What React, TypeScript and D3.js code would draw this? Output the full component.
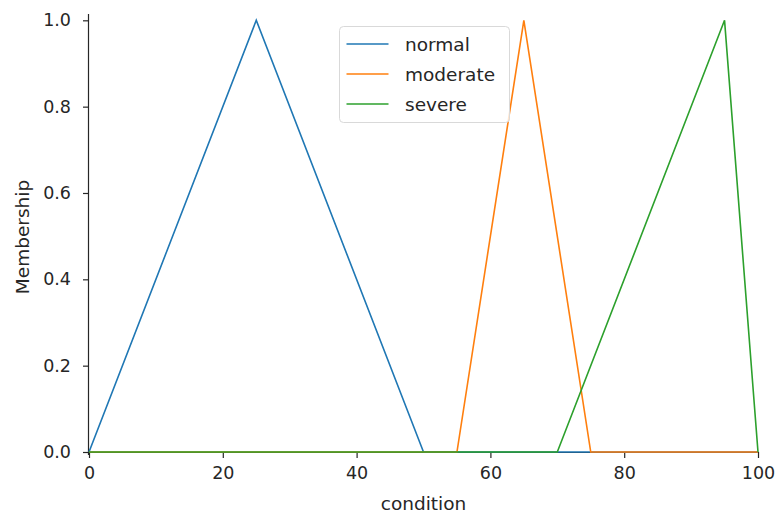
import React, { useEffect, useRef } from 'react';
import * as d3 from 'd3';

const universe = [0, 100];
const xTicks = [0, 20, 40, 60, 80, 100];
const yTicks = [0, 0.2, 0.4, 0.6, 0.8, 1.0];

const normalX = [0, 25, 50, 100];
const normalY = [0, 1, 0, 0];
const moderateX = [0, 55, 65, 75, 100];
const moderateY = [0, 0, 1, 0, 0];
const severeX = [0, 70, 95, 100];
const severeY = [0, 0, 1, 0];

const seriesNames = ['normal', 'moderate', 'severe'];
const seriesColors = ['#1f77b4', '#ff7f0e', '#2ca02c'];

export default function App() {
  const ref = useRef<SVGSVGElement>(null);

  useEffect(() => {
    const width = 781;
    const height = 518;
    const margin = { top: 16, left: 89, bottom: 66, right: 23 };
    const iwidth = width - margin.left - margin.right;
    const iheight = height - margin.top - margin.bottom;
    const font = 'DejaVu Sans, sans-serif';
    const tickFont = '17.5px';
    const labelFont = '18.5px';

    const svg = d3.select(ref.current);
    svg.selectAll('*').remove();
    svg.attr('width', width).attr('height', height);
    svg.append('rect').attr('width', width).attr('height', height).attr('fill', '#fff');

    const g = svg.append('g').attr('transform', `translate(${margin.left},${margin.top})`);

    const x = d3.scaleLinear().domain(universe).range([0, iwidth]);
    const y = d3.scaleLinear().domain([0, 1.01]).range([iheight, 0]);

    const series = [
      { xs: normalX, ys: normalY },
      { xs: moderateX, ys: moderateY },
      { xs: severeX, ys: severeY },
    ];

    const line = d3
      .line<[number, number]>()
      .x((d) => x(d[0]))
      .y((d) => y(d[1]));

    // axes
    const xAxis = g
      .append('g')
      .attr('transform', `translate(0,${iheight})`)
      .call(d3.axisBottom(x).tickValues(xTicks).tickFormat(d3.format('d')).tickSize(6).tickPadding(9));
    const yAxis = g
      .append('g')
      .call(d3.axisLeft(y).tickValues(yTicks).tickFormat(d3.format('.1f')).tickSize(6).tickPadding(12));

    [xAxis, yAxis].forEach((a) => {
      a.select('.domain').attr('stroke', '#262626').attr('stroke-width', 1.2);
      a.selectAll('.tick line').attr('stroke', '#262626').attr('stroke-width', 1.2);
      a.selectAll('.tick text').attr('fill', '#262626').style('font-family', font).style('font-size', tickFont);
    });
    xAxis.selectAll('.domain').attr('d', `M0,0.5H${iwidth}`);
    yAxis.selectAll('.domain').attr('d', `M-0.5,${iheight + 3}V-2`);

    series.forEach((s, i) => {
      const pts = s.xs.map((v, j) => [v, s.ys[j]] as [number, number]);
      g.append('path')
        .attr('d', line(pts))
        .attr('fill', 'none')
        .attr('stroke', seriesColors[i])
        .attr('stroke-width', 1.6);
    });

    // labels
    svg.append('text')
      .attr('x', margin.left + iwidth / 2)
      .attr('y', 510)
      .attr('text-anchor', 'middle')
      .attr('fill', '#262626')
      .style('font-family', font)
      .style('font-size', labelFont)
      .text('condition');
    svg.append('text')
      .attr('transform', `translate(29,237) rotate(-90)`)
      .attr('text-anchor', 'middle')
      .attr('fill', '#262626')
      .style('font-family', font)
      .style('font-size', labelFont)
      .text('Membership');

    // legend
    const lg = svg.append('g').attr('transform', 'translate(339.5,26.5)');
    lg.append('rect')
      .attr('width', 170)
      .attr('height', 96)
      .attr('rx', 4)
      .attr('fill', '#fff')
      .attr('fill-opacity', 0.8)
      .attr('stroke', '#d9d9d9');
    seriesNames.forEach((name, i) => {
      const yy = 17.5 + i * 30;
      lg.append('line')
        .attr('x1', 7)
        .attr('x2', 49)
        .attr('y1', yy)
        .attr('y2', yy)
        .attr('stroke', seriesColors[i])
        .attr('stroke-width', 1.6);
      lg.append('text')
        .attr('x', 65.5)
        .attr('y', yy + 6.5)
        .attr('fill', '#262626')
        .style('font-family', font)
        .style('font-size', labelFont)
        .text(name);
    });
  }, []);

  return (
    <div id="chartArea">
      <svg ref={ref} style={{ position: 'absolute', left: 0, top: 0 }}></svg>
    </div>
  );
}
